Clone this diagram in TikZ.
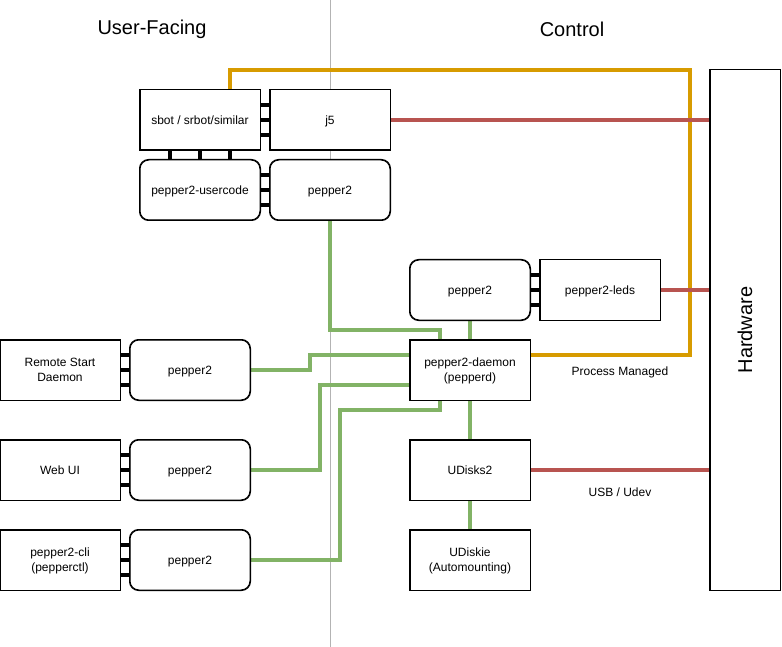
\documentclass[tikz,border=0pt]{standalone}
\usepackage{fontspec}
\setmainfont{Liberation Sans}
\usetikzlibrary{calc}
\definecolor{cOrange}{HTML}{D79B00}
\definecolor{cRed}{HTML}{B85450}
\definecolor{cGreen}{HTML}{82B366}
\definecolor{cGray}{HTML}{B3B3B3}
\begin{document}
\begin{tikzpicture}[x=1pt,y=-1pt,
  box/.style={draw=black,line width=1pt,fill=white,minimum width=120pt,minimum height=60pt,inner sep=0pt,align=center,font=\fontsize{12}{15}\selectfont,text depth=0pt},
  rbox/.style={box,rounded corners=9pt},
  bar/.style={line width=4pt,black},
  gline/.style={line width=4pt,cGreen},
  rline/.style={line width=4pt,cRed},
  oline/.style={line width=4pt,cOrange},
  lbl/.style={font=\fontsize{12}{14}\selectfont,inner sep=0pt},
  ttl/.style={font=\fontsize{20}{23}\selectfont,inner sep=0pt}]
\useasboundingbox (0,0) rectangle (782,647);
\fill[white] (0,0) rectangle (782,647);
\draw[cGray,line width=1pt] (330,0) -- (330,647);
\node[ttl] (tu) at (152,29) {User-Facing};
\node[ttl] (tc) at (572,29) {Control};

\coordinate (oc) at (690,70);
\coordinate (g1) at (440,330);
\coordinate (g2) at (310,355);
\coordinate (g3) at (320,385);
\coordinate (g4) at (340,410);

% boxes
\node[box] (sbot) at (200,120) {sbot / srbot/similar};
\node[box] (j5) at (330,120) {j5};
\node[rbox] (usercode) at (200,190) {pepper2-usercode};
\node[rbox] (ptop) at (330,190) {pepper2};
\node[box] (remote) at (60,370) {Remote Start\\Daemon};
\node[rbox] (premote) at (190,370) {pepper2};
\node[box] (web) at (60,470) {Web UI};
\node[rbox] (pweb) at (190,470) {pepper2};
\node[box] (cli) at (60,560) {pepper2-cli\\(pepperctl)};
\node[rbox] (pcli) at (190,560) {pepper2};
\node[rbox] (pctl) at (470,290) {pepper2};
\node[box] (leds) at (600,290) {pepper2-leds};
\node[box] (daemon) at (470,370) {pepper2-daemon\\(pepperd)};
\node[box] (udisks) at (470,470) {UDisks2};
\node[box] (udiskie) at (470,560) {UDiskie\\(Automounting)};
\node[box,minimum width=70pt,minimum height=520pt] (hw) at (745,330) {};
\node[ttl,rotate=90] (hwt) at (hw.center) {Hardware};

% orange
\draw[oline] ([xshift=30pt]sbot.north) |- (oc) |- ([yshift=15pt]daemon.east);
% red
\draw[rline] (j5.east) -- (j5.east -| hw.west);
\draw[rline] (leds.east) -- (leds.east -| hw.west);
\draw[rline] (udisks.east) -- (udisks.east -| hw.west);
% green
\draw[gline] (ptop.south) |- (g1) -- (g1 |- daemon.north);
\draw[gline] (pctl.south) -- (daemon.north);
\draw[gline] (premote.east) -| (g2) -- (g2 -| daemon.west);
\draw[gline] (pweb.east) -| (g3) -- (g3 -| daemon.west);
\draw[gline] (pcli.east) -| (g4) -| ([xshift=-30pt]daemon.south);
\draw[gline] (daemon.south) -- (udisks.north);
\draw[gline] (udisks.south) -- (udiskie.north);

% redraw box borders on top
\foreach \n in {sbot,j5,remote,web,cli,leds,daemon,udisks,udiskie,hw}
  \draw[line width=1pt] (\n.north west) rectangle (\n.south east);
\foreach \n in {usercode,ptop,premote,pweb,pcli,pctl}
  \draw[line width=1pt,rounded corners=9pt] (\n.north west) rectangle (\n.south east);

% bars
\foreach \d in {-15,0,15} {
  \draw[bar] ([yshift=\d pt]sbot.east) -- ([yshift=\d pt]j5.west);
  \draw[bar] ([yshift=\d pt]usercode.east) -- ([yshift=\d pt]ptop.west);
  \draw[bar] ([yshift=\d pt]remote.east) -- ([yshift=\d pt]premote.west);
  \draw[bar] ([yshift=\d pt]web.east) -- ([yshift=\d pt]pweb.west);
  \draw[bar] ([yshift=\d pt]cli.east) -- ([yshift=\d pt]pcli.west);
  \draw[bar] ([yshift=\d pt]pctl.east) -- ([yshift=\d pt]leds.west);
}
\foreach \d in {-30,0,30}
  \draw[bar] ([xshift=\d pt]sbot.south) -- ([xshift=\d pt]usercode.north);

\node[lbl] (pm) at (620,372) {Process Managed};
\node[lbl] (usb) at (620,492) {USB / Udev};
\end{tikzpicture}
\end{document}
